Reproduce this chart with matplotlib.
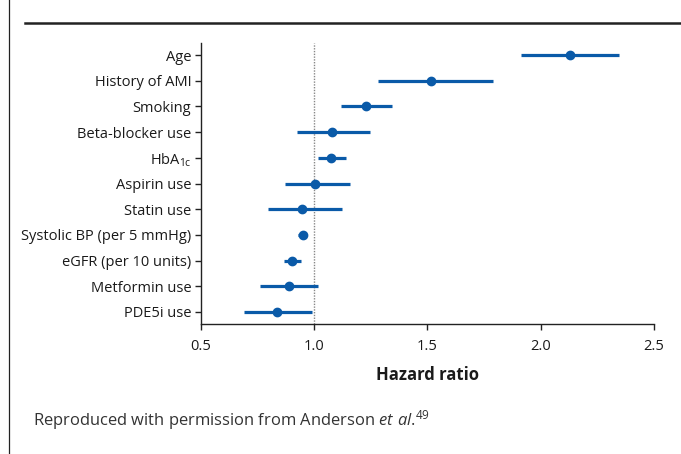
import matplotlib
matplotlib.use("Agg")
import matplotlib.pyplot as plt
from matplotlib.lines import Line2D

plt.rcParams['font.family'] = ['Open Sans', 'DejaVu Sans']
plt.rcParams['mathtext.fontset'] = 'custom'
plt.rcParams['mathtext.rm'] = 'Open Sans'
plt.rcParams['mathtext.it'] = 'Open Sans:italic'
plt.rcParams['mathtext.bf'] = 'Open Sans:bold'

labels = ["Age", "History of AMI", "Smoking", "Beta-blocker use", r"HbA$_{\mathrm{1c}}$",
          "Aspirin use", "Statin use", "Systolic BP (per 5 mmHg)",
          "eGFR (per 10 units)", "Metformin use", "PDE5i use"]
hr = [2.13, 1.514, 1.227, 1.077, 1.074, 1.005, 0.947, 0.950, 0.903, 0.887, 0.834]
lo = [1.915, 1.282, 1.118, 0.925, 1.016, 0.872, 0.797, 0.927, 0.866, 0.762, 0.691]
hi = [2.346, 1.790, 1.344, 1.244, 1.138, 1.160, 1.124, 0.963, 0.940, 1.015, 0.990]
xticks = [0.5, 1.0, 1.5, 2.0, 2.5]
xticklabels = ["0.5", "1.0", "1.5", "2.0", "2.5"]

W, H = 681, 454
fig = plt.figure(figsize=(W / 100, H / 100), dpi=100)
ax = fig.add_axes([201 / W, 1 - 324 / H, (654 - 201) / W, (324 - 43) / H])

color = "#0a5aa8"
ypos = list(range(len(labels)))
ax.axvline(1.0, color="#888888", linestyle=(0, (1, 1)), linewidth=1.0, zorder=1)
for y, h, l, u in zip(ypos, hr, lo, hi):
    ax.plot([l, u], [y, y], color=color, linewidth=2.3, solid_capstyle="butt", zorder=2)
ax.plot(hr, ypos, "o", color=color, markersize=6.0, zorder=3)

ax.set_xlim(0.5, 2.5)
ax.set_ylim(len(labels) - 1 + 0.47, -0.47)
ax.set_yticks(ypos)
ax.set_yticklabels(labels, fontsize=10.5, color="#1a1a1a")
ax.set_xticks(xticks)
ax.set_xticklabels(xticklabels, fontsize=10.5, color="#1a1a1a")
ax.spines["top"].set_visible(False)
ax.spines["right"].set_visible(False)
for s in ("left", "bottom"):
    ax.spines[s].set_linewidth(1.0)
    ax.spines[s].set_color("#222222")
ax.tick_params(axis="y", direction="out", length=4.5, width=1.0, color="#222222", pad=2.5)
ax.tick_params(axis="x", direction="out", length=4.5, width=1.0, color="#222222", pad=6)
ax.set_xlabel("Hazard ratio", fontsize=12, fontweight="bold", color="#1a1a1a", labelpad=9)

# frame decorations
fig.add_artist(Line2D([9 / W, 9 / W], [0, 1], color="#222222", linewidth=0.9))
fig.add_artist(Line2D([25 / W, 1], [1 - 22.7 / H, 1 - 22.7 / H], color="#222222", linewidth=1.8))

fig.text(33 / W, 1 - 420 / H, r"Reproduced with permission from Anderson $\mathit{et\ al}$.$^{49}$",
         fontsize=11.9, color="#333333", va="center", ha="left")

fig.savefig("out.png", dpi=100)
